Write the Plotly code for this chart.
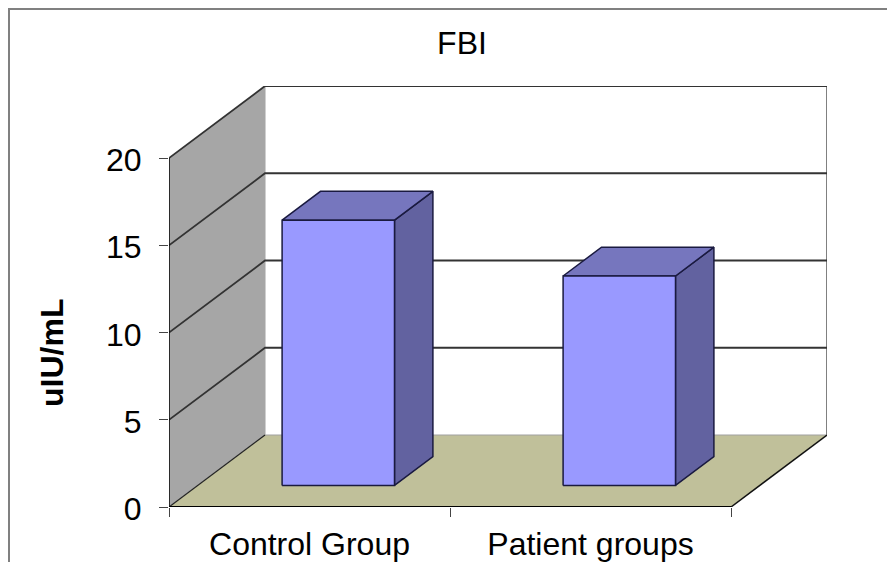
import plotly.graph_objects as go

categories = ["Control Group", "Patient groups"]
values = [15.2, 12.0]
y_ticks = [0, 5, 10, 15, 20]
title_text = "FBI"
y_title = "uIU/mL"

W, H = 887, 562
L, R, T, B = 169, 827, 86, 507          # plot rectangle, px
CAT_PX = 281.0                          # px per category
UNIT_PX = 349 / 20                      # px per value unit
DX = 96 / CAT_PX                        # depth offset, in category units
DY = 72 / UNIT_PX                       # depth offset, in value units
BAR_GAP, BAR_W = 0.3, 0.4
D0, D1 = 0.3, 0.7                       # bar depth start/end (fraction of depth)
N = len(categories)
YMAX = y_ticks[-1]

fig = go.Figure()


def poly(xs, ys, fill=None, line=None, width=1):
    fig.add_trace(go.Scatter(
        x=xs, y=ys, mode="lines", hoverinfo="skip", showlegend=False, cliponaxis=False,
        fill="toself" if fill else "none", fillcolor=fill,
        line=dict(color=line or "rgba(0,0,0,0)", width=width if line else 0),
    ))


# back wall
poly([DX, N + DX, N + DX, DX, DX], [DY, DY, YMAX + DY, YMAX + DY, DY], fill="#FFFFFF")
poly([DX, DX], [DY, YMAX + DY], line="#D0D0D0", width=2)
poly([N + DX, N + DX], [DY, YMAX + DY], line="#808080", width=2)
# side wall
poly([0, DX, DX, 0, 0], [0, DY, YMAX + DY, YMAX, 0], fill="#A6A6A6")
# floor
poly([0, N, N + DX, DX, 0], [0, 0, DY, DY, 0], fill="#C0C09A")
poly([DX, N + DX], [DY, DY], line="#A0A0A0", width=1)
poly([0, DX], [0, DY], line="#222222", width=1.2)
poly([N, N + DX], [0, DY], line="#111111", width=1.5)
# gridlines
for v in y_ticks[1:]:
    poly([0, DX, N + DX], [v, v + DY, v + DY], line="#333333", width=1.8)

# bars
for i, v in enumerate(values):
    x0 = i + BAR_GAP + D0 * DX
    x1 = x0 + BAR_W
    b = D0 * DY
    t = v + b
    ox = (D1 - D0) * DX
    oy = (D1 - D0) * DY
    edge = "#1A1A40"
    poly([x1, x1 + ox, x1 + ox, x1, x1], [b, b + oy, t + oy, t, b], fill="#6262A0", line=edge, width=1.5)
    poly([x0, x1, x1 + ox, x0 + ox, x0], [t, t, t + oy, t + oy, t], fill="#7676BE", line=edge, width=1.5)
    poly([x0, x1, x1, x0, x0], [b, b, t, t, b], fill="#9999FF", line=edge, width=1.5)

# front axes
poly([0, 0], [0, YMAX], line="#000000", width=1.5)
poly([0, N], [0, 0], line="#000000", width=2)

fig.update_layout(
    width=W, height=H, autosize=False,
    margin=dict(l=L, r=W - R, t=T, b=H - B, autoexpand=False),
    paper_bgcolor="#FFFFFF", plot_bgcolor="rgba(0,0,0,0)",
    font=dict(family="Liberation Sans, Arial, sans-serif", size=32, color="#000000"),
    showlegend=False,
    title=dict(text=title_text, x=462 / W, y=1 - 43 / H, xref="container", yref="container",
               xanchor="center", yanchor="middle", font=dict(size=32), automargin=False),
    xaxis=dict(
        range=[0, (R - L) / CAT_PX], showgrid=False, zeroline=False, showline=False,
        automargin=False,
        tickmode="array", tickvals=[i + 0.5 for i in range(N)], ticktext=categories,
        ticks="", ticklabelstandoff=15, fixedrange=True,
        minor=dict(tickmode="array", tickvals=list(range(N + 1)), ticks="outside",
                   ticklen=9, tickwidth=1, tickcolor="#444444", showgrid=False),
    ),
    yaxis=dict(
        range=[0, (B - T) / UNIT_PX], showgrid=False, zeroline=False, showline=False,
        automargin=False,
        tickmode="array", tickvals=y_ticks, ticktext=[str(v) for v in y_ticks],
        ticks="outside", ticklen=9, tickwidth=1, tickcolor="#444444",
        ticklabelstandoff=11, ticklabelshift=2, fixedrange=True,
    ),
    annotations=[dict(
        text=f"<b>{y_title}</b>", textangle=-90, xref="paper", yref="paper",
        x=(52 - L) / (R - L), y=(B - 353) / (B - T), xanchor="center", yanchor="middle",
        showarrow=False, font=dict(size=32),
    )],
    shapes=[dict(
        type="path", xref="paper", yref="paper",
        path=f"M {(9 - L) / (R - L)} {(B - H - 20) / (B - T)} "
             f"L {(9 - L) / (R - L)} {(B - 9) / (B - T)} "
             f"L {(W + 20 - L) / (R - L)} {(B - 9) / (B - T)}",
        line=dict(color="#808080", width=2), layer="below",
    )],
)

fig.write_html("out.html", config={"displayModeBar": False},
               post_script="document.body.style.margin='0';document.documentElement.style.overflow='hidden';")
